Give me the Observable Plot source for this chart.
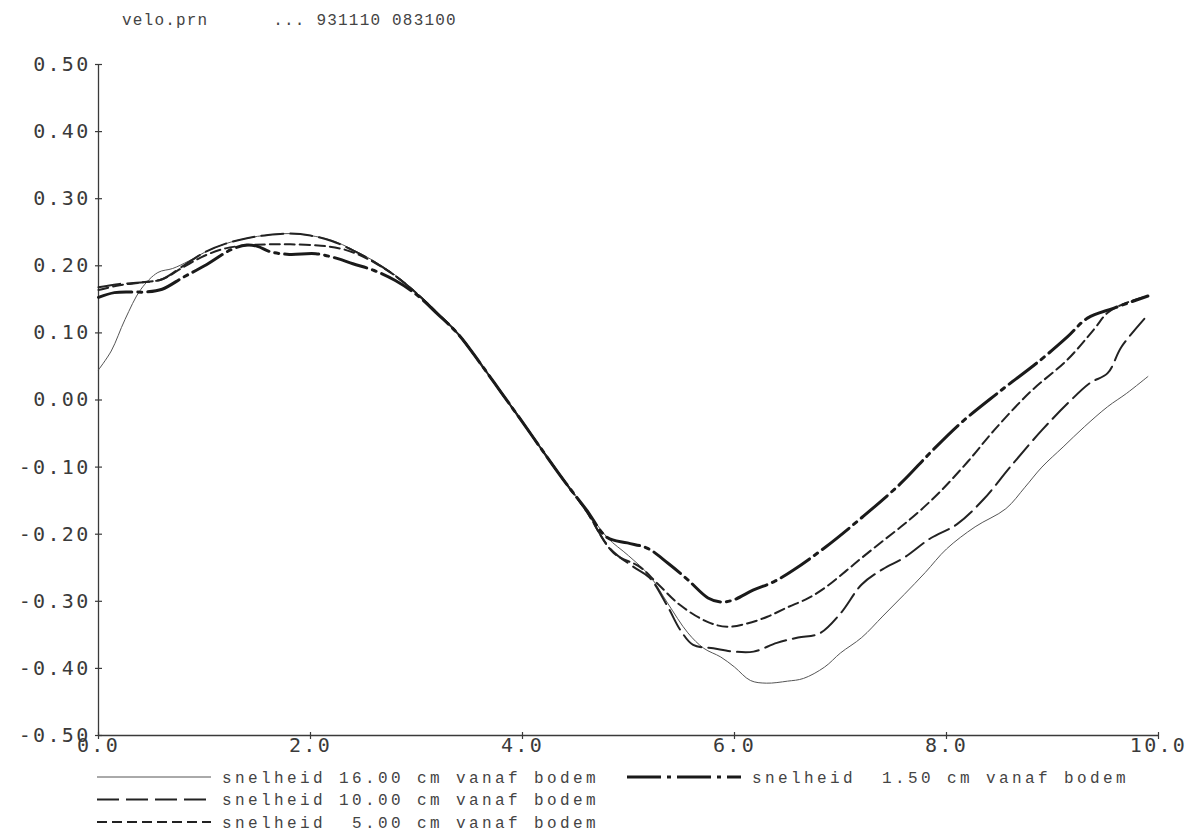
<!DOCTYPE html>
<html>
<head>
<meta charset="utf-8">
<script src="https://cdn.jsdelivr.net/npm/d3@7"></script>
<script src="https://cdn.jsdelivr.net/npm/@observablehq/plot@0.6"></script>
<style>
  html, body { margin: 0; padding: 0; background: #fff; }
  #page { width: 1188px; }
  #title {
    height: 17px; padding-top: 13px; padding-left: 122px;
    font-family: "Liberation Mono", monospace; font-size: 16px; line-height: 17px;
    letter-spacing: 1.2px; color: #444; white-space: pre; overflow: visible;
  }
  #chart svg, #legend svg { display: block; }
</style>
</head>
<body>
<div id="page">
  <div id="title">velo.prn      ... 931110 083100</div>
  <div id="chart"></div>
  <div id="legend"></div>
</div>
<script>
// Flow velocity at four heights above the bed, over one wave period (0–10 s)

// 16.00 cm above the bed
const t16 = [0, 0.12, 0.25, 0.4, 0.56, 0.7, 0.85, 1.0, 1.2, 1.4, 1.6, 1.8, 2.0, 2.2, 2.4, 2.6, 2.8, 3.0, 3.2, 3.4, 3.6, 3.8, 4.0, 4.2, 4.4, 4.6, 4.8, 5.0, 5.2, 5.37, 5.56, 5.71, 5.87, 6.0, 6.15, 6.3, 6.5, 6.65, 6.85, 7.0, 7.2, 7.4, 7.6, 7.8, 8.0, 8.27, 8.56, 8.74, 8.9, 9.1, 9.3, 9.52, 9.7, 9.9];
const v16 = [0.045, 0.073, 0.12, 0.165, 0.19, 0.196, 0.207, 0.220, 0.233, 0.241, 0.246, 0.248, 0.245, 0.238, 0.224, 0.207, 0.186, 0.160, 0.130, 0.098, 0.056, 0.012, -0.032, -0.077, -0.121, -0.163, -0.205, -0.232, -0.262, -0.303, -0.347, -0.370, -0.383, -0.398, -0.418, -0.422, -0.419, -0.415, -0.398, -0.377, -0.354, -0.322, -0.290, -0.257, -0.222, -0.189, -0.162, -0.130, -0.100, -0.070, -0.040, -0.010, 0.010, 0.035];

// 10.00 cm above the bed
const t10 = [0, 0.2, 0.4, 0.6, 0.8, 1.0, 1.2, 1.4, 1.6, 1.8, 2.0, 2.2, 2.4, 2.6, 2.8, 3.0, 3.2, 3.4, 3.6, 3.8, 4.0, 4.2, 4.4, 4.6, 4.83, 5.05, 5.2, 5.37, 5.49, 5.61, 5.8, 6.0, 6.18, 6.4, 6.6, 6.8, 7.0, 7.2, 7.4, 7.6, 7.85, 8.1, 8.35, 8.6, 8.9, 9.15, 9.35, 9.52, 9.65, 9.9];
const v10 = [0.168, 0.173, 0.175, 0.180, 0.200, 0.220, 0.233, 0.241, 0.246, 0.248, 0.245, 0.237, 0.223, 0.206, 0.185, 0.159, 0.129, 0.097, 0.055, 0.011, -0.033, -0.078, -0.122, -0.165, -0.222, -0.249, -0.265, -0.308, -0.343, -0.365, -0.370, -0.375, -0.375, -0.362, -0.354, -0.348, -0.318, -0.275, -0.252, -0.235, -0.206, -0.185, -0.148, -0.100, -0.045, -0.004, 0.025, 0.040, 0.079, 0.127];

// 5.00 cm above the bed
const t5 = [0, 0.2, 0.4, 0.6, 0.8, 1.0, 1.2, 1.43, 1.6, 1.81, 2.1, 2.3, 2.45, 2.6, 2.8, 3.0, 3.2, 3.4, 3.6, 3.8, 4.0, 4.2, 4.4, 4.6, 4.86, 5.11, 5.27, 5.49, 5.75, 5.93, 6.12, 6.31, 6.5, 6.7, 6.86, 7.05, 7.21, 7.4, 7.57, 7.75, 7.95, 8.2, 8.45, 8.79, 9.14, 9.39, 9.52, 9.7, 9.9];
const v5 = [0.164, 0.171, 0.175, 0.180, 0.198, 0.215, 0.226, 0.231, 0.232, 0.232, 0.230, 0.225, 0.217, 0.205, 0.185, 0.159, 0.129, 0.097, 0.055, 0.011, -0.033, -0.078, -0.122, -0.165, -0.228, -0.249, -0.273, -0.306, -0.331, -0.338, -0.333, -0.323, -0.309, -0.295, -0.279, -0.255, -0.234, -0.210, -0.189, -0.165, -0.135, -0.092, -0.045, 0.012, 0.060, 0.105, 0.130, 0.145, 0.155];

// 1.50 cm above the bed
const t1_5 = [0, 0.15, 0.3, 0.45, 0.6, 0.8, 1.0, 1.25, 1.4, 1.5, 1.62, 1.8, 2.05, 2.25, 2.4, 2.6, 2.8, 3.0, 3.2, 3.4, 3.6, 3.8, 4.0, 4.2, 4.4, 4.6, 4.8, 4.99, 5.18, 5.37, 5.56, 5.75, 5.87, 5.99, 6.18, 6.37, 6.56, 6.86, 7.21, 7.57, 7.85, 8.13, 8.48, 8.89, 9.14, 9.33, 9.58, 9.9];
const v1_5 = [0.153, 0.160, 0.161, 0.161, 0.165, 0.183, 0.200, 0.224, 0.231, 0.229, 0.221, 0.217, 0.218, 0.211, 0.203, 0.193, 0.178, 0.157, 0.128, 0.097, 0.055, 0.011, -0.033, -0.078, -0.122, -0.163, -0.205, -0.213, -0.221, -0.243, -0.268, -0.295, -0.301, -0.298, -0.283, -0.271, -0.253, -0.219, -0.174, -0.124, -0.078, -0.035, 0.010, 0.060, 0.094, 0.122, 0.137, 0.155];

// Axis ticks
const xTicks = [0, 2, 4, 6, 8, 10];
const yTicks = [-0.5, -0.4, -0.3, -0.2, -0.1, 0, 0.1, 0.2, 0.3, 0.4, 0.5];

// Series and their legend texts
const seriesNames = [
  "snelheid 16.00 cm vanaf bodem",
  "snelheid 10.00 cm vanaf bodem",
  "snelheid  5.00 cm vanaf bodem",
  "snelheid  1.50 cm vanaf bodem"
];
const seriesT = [t16, t10, t5, t1_5];
const seriesV = [v16, v10, v5, v1_5];

// Pen styles per series
const pens = [
  {stroke: "#555", strokeWidth: 1, dash: null},
  {stroke: "#222", strokeWidth: 2, dash: "22,7"},
  {stroke: "#222", strokeWidth: 2, dash: "10,5"},
  {stroke: "#1a1a1a", strokeWidth: 3, dash: "34,6,4,6"}
];

const rows = seriesNames.flatMap((name, i) =>
  seriesT[i].map((t, j) => ({series: name, t, v: seriesV[i][j]})));

const ink = "#3a3a3a";
const fmtY = d => d.toFixed(2);
const fmtX = d => d.toFixed(1);

// Small tick symbols that cross the axis line on both sides
const hTick = {draw(ctx) { ctx.moveTo(-3.5, 0); ctx.lineTo(3.5, 0); }};
const vTick = {draw(ctx) { ctx.moveTo(0, -3.5); ctx.lineTo(0, 3.5); }};

const chart = Plot.plot({
  width: 1188,
  height: 735,
  marginLeft: 98,
  marginRight: 30,
  marginTop: 34,
  marginBottom: 30,
  x: {domain: [0, 10]},
  y: {domain: [-0.5, 0.5]},
  style: {
    background: "#fff",
    color: ink,
    fontFamily: "'DejaVu Sans Mono', monospace",
    fontSize: "20px"
  },
  marks: [
    // axis lines
    Plot.ruleX([0], {stroke: ink, strokeWidth: 1.3}),
    Plot.ruleY([-0.5], {stroke: ink, strokeWidth: 1.3}),
    // tick marks crossing the axes
    Plot.dot(yTicks, {x: 0, y: d => d, symbol: hTick, stroke: ink, strokeWidth: 1.2, fill: "none"}),
    Plot.dot(xTicks, {x: d => d, y: -0.5, symbol: vTick, stroke: ink, strokeWidth: 1.2, fill: "none"}),
    // tick labels
    Plot.axisY({ticks: yTicks, tickSize: 0, tickPadding: 8, tickFormat: fmtY, label: null, fill: ink}),
    Plot.axisX({ticks: xTicks, tickSize: 0, tickPadding: 2, tickFormat: fmtX, label: null, fill: ink}),
    // velocity curves
    ...seriesNames.map((name, i) => Plot.line(rows.filter(r => r.series === name), {
      x: "t", y: "v",
      stroke: pens[i].stroke,
      strokeWidth: pens[i].strokeWidth,
      strokeDasharray: pens[i].dash ?? undefined,
      curve: "catmull-rom"
    }))
  ]
});
d3.select(chart).selectAll("text").style("letter-spacing", "2.3px");
document.getElementById("chart").appendChild(chart);

// Legend: pen sample followed by its text, two columns
const legendPos = [
  {x: 97, row: 0}, {x: 97, row: 1}, {x: 97, row: 2}, {x: 627, row: 0}
];
const lg = d3.create("svg").attr("width", 1188).attr("height", 74);
seriesNames.forEach((name, i) => {
  const p = legendPos[i];
  const y = 12 + p.row * 22.5;
  lg.append("line")
    .attr("x1", p.x).attr("x2", p.x + 114).attr("y1", y).attr("y2", y)
    .attr("stroke", pens[i].stroke)
    .attr("stroke-width", pens[i].strokeWidth)
    .attr("stroke-dasharray", pens[i].dash);
  lg.append("text")
    .attr("x", p.x + 125).attr("y", y).attr("dy", "0.35em")
    .attr("fill", "#444")
    .style("font-family", "'Liberation Mono', monospace")
    .style("font-size", "16px")
    .style("letter-spacing", "3.4px")
    .style("white-space", "pre")
    .text(name);
});
document.getElementById("legend").appendChild(lg.node());
</script>
</body>
</html>
